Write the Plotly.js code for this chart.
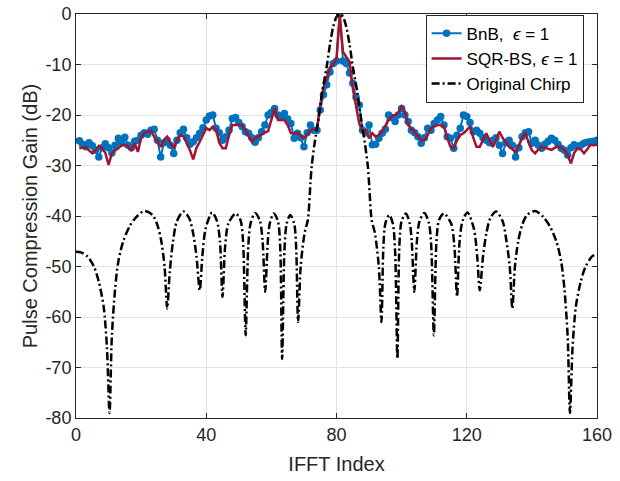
<!DOCTYPE html>
<html>
<head>
<meta charset="utf-8">
<script src="https://cdn.plot.ly/plotly-3.0.1.min.js"></script>
<style>html,body{margin:0;padding:0;background:#fff;}#chart{width:620px;height:481px;}</style>
</head>
<body>
<div id="chart"></div>
<script>
// IFFT index for the reconstructed waveforms
const idx = Array.from({length: 160}, (_, i) => i + 1);

// BnB, epsilon = 1 (dB)
const bnb = [
 -25.1,-25.8,-26.3,-25.5,-26.1,-27.0,-28.3,-26.5,-25.7,-26.5,
 -27.5,-26.0,-24.6,-25.5,-24.4,-26.0,-26.5,-25.2,-25.0,-24.0,
 -23.5,-23.8,-23.0,-22.8,-25.0,-28.3,-25.5,-25.0,-26.0,-27.6,
 -25.0,-23.5,-22.8,-24.5,-25.8,-25.3,-24.5,-23.6,-22.5,-21.0,
 -20.2,-20.0,-22.6,-23.5,-25.0,-24.3,-23.0,-20.7,-20.5,-21.5,
 -22.3,-23.3,-23.6,-24.5,-25.4,-24.5,-23.3,-22.0,-20.0,-19.5,
 -18.7,-20.0,-20.5,-19.7,-20.8,-21.7,-24.6,-23.6,-24.5,-26.3,
 -23.5,-22.0,-23.0,-23.0,-19.0,-16.0,-14.0,-11.5,-9.8,-9.3,
 0.0,-9.3,-9.8,-11.7,-13.7,-16.5,-18.0,-23.0,-23.5,-22.0,
 -25.9,-25.8,-24.6,-23.6,-22.8,-20.0,-20.5,-21.3,-20.0,-18.7,
 -20.0,-21.3,-23.0,-23.5,-24.3,-25.6,-24.5,-22.6,-23.0,-21.7,
 -21.0,-20.3,-22.0,-24.3,-24.6,-26.6,-24.0,-22.6,-20.0,-20.3,
 -21.5,-23.3,-23.0,-23.6,-24.5,-25.0,-25.5,-25.0,-24.5,-26.0,
 -27.6,-25.5,-25.0,-26.0,-28.3,-26.5,-24.3,-23.5,-23.3,-25.6,
 -25.0,-26.0,-26.6,-25.8,-25.2,-24.6,-25.0,-25.8,-26.6,-27.0,
 -27.9,-26.5,-25.9,-26.3,-26.0,-25.6,-25.4,-25.3,-25.2,-25.0
];

// SQR-BS, epsilon = 1 (dB)
const sqr = [
 -26.6,-26.5,-26.4,-27.0,-27.6,-27.0,-26.1,-26.5,-27.5,-29.9,
 -27.6,-27.0,-26.6,-26.0,-26.0,-26.2,-27.1,-25.6,-27.3,-24.5,
 -23.5,-23.3,-23.1,-24.3,-25.2,-26.3,-25.0,-24.3,-25.5,-26.6,
 -25.0,-24.0,-24.2,-25.5,-27.0,-28.8,-26.5,-25.3,-24.0,-22.6,
 -23.0,-22.3,-22.8,-25.5,-26.6,-26.6,-24.0,-22.0,-22.0,-22.0,
 -22.0,-23.0,-24.3,-25.3,-24.6,-24.2,-23.8,-23.5,-23.2,-21.0,
 -18.7,-21.0,-21.0,-21.0,-22.0,-23.6,-23.6,-23.6,-24.0,-24.6,
 -23.8,-23.0,-22.8,-22.6,-18.0,-14.5,-12.7,-10.5,-10.0,-8.8,
 -0.3,-7.5,-8.5,-9.4,-14.7,-18.0,-21.7,-23.3,-23.0,-24.6,
 -23.6,-24.3,-24.0,-23.3,-22.0,-21.0,-20.3,-20.0,-19.5,-18.3,
 -19.3,-22.0,-22.7,-23.3,-24.3,-25.0,-25.0,-24.0,-22.6,-22.3,
 -22.0,-22.0,-22.3,-24.5,-26.3,-26.6,-25.0,-24.0,-23.6,-23.0,
 -22.3,-24.5,-26.3,-26.3,-25.0,-23.6,-25.0,-26.3,-25.0,-23.3,
 -24.5,-25.5,-26.3,-26.8,-27.3,-26.0,-24.5,-23.5,-25.5,-27.0,
 -27.6,-26.8,-26.3,-26.5,-26.7,-26.9,-26.5,-26.2,-26.5,-26.9,
 -28.0,-29.6,-27.5,-26.6,-26.8,-27.6,-26.8,-25.9,-26.0,-25.9
];

// Original chirp (dB)
const chirpX = [
 0,1.5,3.5,5.5,7,8.5,9.5,10.3,11,12,13,14.5,16.5,18.5,21,23.5,25,26.2,27.2,28,
 28.8,29.8,31,33,34.8,36,37,38,38.8,39.8,41.8,43.3,44.2,45,45.8,46.8,49,50.5,51.3,52.1,
 52.9,53.6,55,56.5,57.3,58.1,58.9,59.5,60.7,62,62.7,63.3,64,64.7,65.8,67,67.6,68.2,69,70.2,
 71.2,72,72.4,73.3,74.4,75.6,77,78,79,80,81,82,83,84,85,86.4,87.6,88.7,89.6,90,
 90.8,91.8,93,93.8,94.4,95,96.2,97.3,98,98.7,99.3,100,101.3,102.5,103.1,103.9,104.7,105.5,107,108.4,
 109.1,109.9,110.7,111.5,113,115.2,116.2,117,117.8,118.7,120.2,122.2,123.2,124,125,126,127.2,129,131,132.2,
 133.2,134,134.8,135.8,137,138.5,141,143.5,145.5,147.5,149,150,151,151.7,152.5,153.5,155,156.5,158.5,160
];
const chirpY = [
 -47.1,-47.2,-48,-50,-53,-58,-66,-79,-64,-54.5,-49,-45,-42,-40.2,-39,-39.8,-41.8,-45,-50,-58.3,
 -51,-45,-41,-39.1,-40.5,-43.5,-48,-54.7,-48,-42.5,-39.3,-41,-45,-56,-46,-41.5,-39.5,-40.8,-45,-63.6,
 -46,-41.5,-39.4,-41,-45,-55,-45,-41.5,-39.5,-41,-46,-68.3,-47,-41.5,-39.8,-41.5,-46,-61,-50,-43.4,
 -40.8,-33.5,-30,-25.5,-21,-15.5,-10.4,-6,-2.5,-0.6,0,-0.6,-2.5,-6,-10.4,-15.5,-21,-25.5,-30,-33.5,
 -40.8,-43.4,-50,-61,-46,-41.5,-39.8,-41.5,-47,-68.3,-46,-41,-39.5,-41.5,-45,-55,-45,-41,-39.4,-41.5,
 -46,-63.6,-45,-40.8,-39.5,-41.5,-46,-56,-45,-41,-39.3,-42.5,-48,-54.7,-48,-43.5,-40.5,-39.1,-41,-45,
 -50,-58.3,-50,-45,-41.8,-39.8,-39,-40.2,-42,-45,-49,-54.5,-64,-79,-66,-58,-53,-50,-48,-47.5
];

const xTicks = [0, 40, 80, 120, 160];
const yTicks = [0, -10, -20, -30, -40, -50, -60, -70, -80];

const FONT = 'Liberation Sans, Arial, Helvetica, sans-serif';

const traces = [
  {x: idx, y: bnb, type: 'scatter', mode: 'lines+markers', name: 'BnB,  <i>ϵ</i> = 1',
   line: {color: '#0072BD', width: 2}, marker: {color: '#0072BD', size: 7.5, symbol: 'circle'}},
  {x: idx, y: sqr, type: 'scatter', mode: 'lines', name: 'SQR-BS, <i>ϵ</i> = 1',
   line: {color: '#A2142F', width: 2.5}},
  {x: chirpX, y: chirpY, type: 'scatter', mode: 'lines', name: 'Original Chirp',
   line: {color: '#000000', width: 2.5, dash: '8px,3px,2px,3px', shape: 'spline', smoothing: 0.8}}
];

const axisCommon = {
  showline: true, mirror: 'ticks', linecolor: '#262626', linewidth: 1,
  ticks: 'inside', ticklen: 5, tickcolor: '#262626',
  showgrid: true, gridcolor: '#e3e3e3', gridwidth: 1, zeroline: false,
  tickfont: {family: FONT, size: 18, color: '#262626'}
};

const layout = {
  width: 620, height: 481,
  margin: {l: 76, r: 23, t: 14, b: 63},
  paper_bgcolor: '#ffffff', plot_bgcolor: '#ffffff',
  showlegend: true,
  xaxis: Object.assign({}, axisCommon, {
    range: [0, 160], tickvals: xTicks, ticktext: xTicks.map(String),
    title: {text: 'IFFT Index', font: {family: FONT, size: 20, color: '#262626'}, standoff: 13}
  }),
  yaxis: Object.assign({}, axisCommon, {
    range: [-80, 0], tickvals: yTicks, ticktext: yTicks.map(String),
    title: {text: 'Pulse Compression Gain (dB)', font: {family: FONT, size: 20, color: '#262626'}, standoff: 2}
  }),
  legend: {
    x: 0.671, y: 0.998, xanchor: 'left', yanchor: 'top',
    bgcolor: '#ffffff', bordercolor: '#262626', borderwidth: 1,
    font: {family: FONT, size: 17, color: '#000000'},
    itemwidth: 30, tracegroupgap: 0
  }
};

Plotly.newPlot('chart', traces, layout, {displayModeBar: false, staticPlot: true});
</script>
</body>
</html>
